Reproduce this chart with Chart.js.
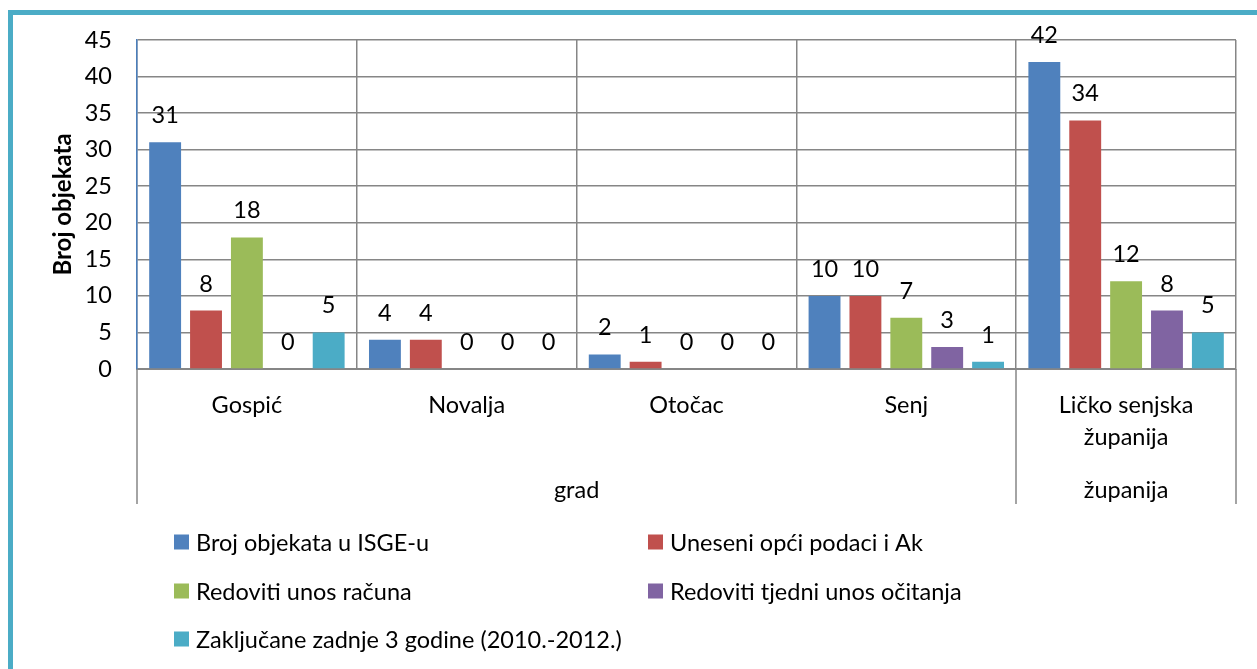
<!DOCTYPE html>
<html><head><meta charset="utf-8">
<script src="https://cdn.jsdelivr.net/npm/chart.js@4/dist/chart.umd.min.js"></script>
<style>html,body{margin:0;padding:0;background:#fff;overflow:hidden}</style>
</head><body><canvas id="c" width="1257" height="669"></canvas>
<script>
const categories = [['Gospić'], ['Novalja'], ['Otočac'], ['Senj'], ['Ličko senjska', 'županija']];
const groupNames = ['grad', 'županija'];
const groupStart = [0, 4];
const groupEnd = [3, 4];
const seriesNames = ['Broj objekata u ISGE-u', 'Uneseni opći podaci i Ak', 'Redoviti unos računa', 'Redoviti tjedni unos očitanja', 'Zaključane zadnje 3 godine (2010.-2012.)'];
const brojObjekata = [31, 4, 2, 10, 42];
const uneseniPodaci = [8, 4, 1, 10, 34];
const unosRacuna = [18, 0, 0, 7, 12];
const tjedniUnos = [0, 0, 0, 3, 8];
const zakljucane = [5, 0, 0, 1, 5];
const yMin = 0, yMax = 45, yStep = 5;
const yTitle = 'Broj objekata';
const colors = ['#4f81bd', '#c0504d', '#9bbb59', '#8064a2', '#4bacc6'];

const FONT = 'Lato';
const FS = 23.5;
const GRID = '#868686';

const seriesValues = [brojObjekata, uneseniPodaci, unosRacuna, tjedniUnos, zakljucane];

const decor = {
  id: 'decor',
  beforeDraw(chart) {
    const ctx = chart.ctx;
    ctx.save();
    ctx.fillStyle = '#4bacc6';
    ctx.fillRect(8, 10, 5, 669);
    ctx.fillRect(8, 10, 1257, 5);
    ctx.restore();
  },
  afterDatasetsDraw(chart) {
    const ctx = chart.ctx;
    ctx.save();
    ctx.font = FS + 'px ' + FONT;
    ctx.fillStyle = '#000';
    ctx.textAlign = 'center';
    ctx.textBaseline = 'alphabetic';
    chart.data.datasets.forEach((ds, di) => {
      const meta = chart.getDatasetMeta(di);
      meta.data.forEach((bar, i) => {
        ctx.fillText(String(ds.data[i]), bar.x, bar.y - 19);
      });
    });
    ctx.restore();
  },
  afterDraw(chart) {
    const ctx = chart.ctx;
    const xs = chart.scales.x;
    const cw = (xs.getPixelForValue(1) - xs.getPixelForValue(0));
    ctx.save();
    ctx.strokeStyle = GRID;
    ctx.lineWidth = 1.5;
    const yTop = xs.top, yBot = 504;
    const bounds = new Set();
    groupStart.forEach((s, g) => {
      bounds.add(Math.round(xs.getPixelForValue(s) - cw / 2));
      bounds.add(Math.round(xs.getPixelForValue(groupEnd[g]) + cw / 2));
    });
    bounds.forEach(x => {
      ctx.beginPath(); ctx.moveTo(x, yTop); ctx.lineTo(x, yBot); ctx.stroke();
    });
    ctx.font = FS + 'px ' + FONT;
    ctx.fillStyle = '#000';
    ctx.textAlign = 'center';
    ctx.textBaseline = 'middle';
    groupNames.forEach((name, g) => {
      const cx = (xs.getPixelForValue(groupStart[g]) + xs.getPixelForValue(groupEnd[g])) / 2;
      ctx.fillText(name, cx, 490);
    });
    // legend
    const colX = [174, 648];
    const rowY = [542, 591, 639];
    ctx.textAlign = 'left';
    seriesNames.forEach((name, i) => {
      const x = colX[i % 2], y = rowY[Math.floor(i / 2)];
      ctx.fillStyle = colors[i];
      ctx.fillRect(x, y - 7.5, 15, 15);
      ctx.fillStyle = '#000';
      ctx.fillText(name, x + 22, y + 1);
    });
    ctx.restore();
  }
};

new Chart(document.getElementById('c'), {
  type: 'bar',
  data: {
    labels: categories,
    datasets: seriesNames.map((n, i) => ({
      label: n,
      data: seriesValues[i],
      backgroundColor: colors[i],
      borderWidth: 0,
      categoryPercentage: 0.93,
      barPercentage: 0.78
    }))
  },
  options: {
    responsive: false,
    animation: false,
    devicePixelRatio: 1,
    layout: { padding: { left: 0, top: 40, right: 21, bottom: 165 } },
    plugins: { legend: { display: false }, tooltip: { enabled: false } },
    scales: {
      x: {
        offset: true,
        grid: { offset: true, color: GRID, lineWidth: 1.5, drawTicks: false },
        border: { color: GRID, width: 2 },
        ticks: { color: '#000', font: { family: FONT, size: FS, lineHeight: 1.36 }, padding: 20, maxRotation: 0, autoSkip: false },
        afterFit(s) { s.height = 135; }
      },
      y: {
        min: yMin, max: yMax,
        grid: { color: GRID, lineWidth: 1.5, drawTicks: false },
        border: { color: '#4a7ebb', width: 1.5 },
        ticks: { stepSize: yStep, color: '#000', font: { family: FONT, size: FS }, padding: 25 },
        title: { display: true, text: yTitle, color: '#000', font: { family: FONT, size: 24, weight: 'bold' }, padding: { top: 49, bottom: 0 } },
        afterFit(s) { s.width = 137; }
      }
    }
  },
  plugins: [decor]
});
</script>
</body></html>
